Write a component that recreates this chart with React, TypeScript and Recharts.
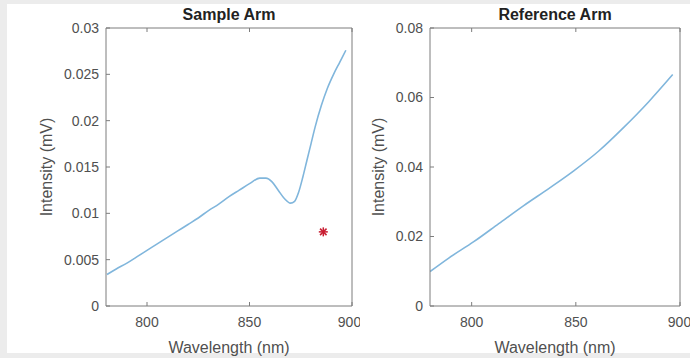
import { ComposedChart, Line, Scatter, XAxis, YAxis } from 'recharts'

const sampleWavelength = [780.5, 785, 790, 795, 800, 805, 810, 815, 820, 825, 830, 835, 840, 845, 850, 855, 858, 861, 864, 867, 870, 872, 874, 876, 878, 880, 882, 885, 888, 891, 894, 897]
const sampleIntensity = [0.0034, 0.004, 0.0046, 0.0053, 0.006, 0.0067, 0.0074, 0.0081, 0.0088, 0.0095, 0.0103, 0.011, 0.0118, 0.0125, 0.0132, 0.0138, 0.0138, 0.0134, 0.0125, 0.0116, 0.0111, 0.0113, 0.0123, 0.0139, 0.0157, 0.0175, 0.0193, 0.0216, 0.0235, 0.025, 0.0263, 0.0276]

const refWavelength = [780, 789, 801, 813, 825, 837, 849, 861, 873, 885, 896.5]
const refIntensity = [0.0099, 0.0138, 0.0185, 0.0237, 0.0289, 0.0338, 0.0389, 0.0446, 0.0514, 0.0588, 0.0666]

const markerWavelength = [886]
const markerIntensity = [0.008]

const xTicks = [800, 850, 900]
const sampleYTicks = [0, 0.005, 0.01, 0.015, 0.02, 0.025, 0.03]
const refYTicks = [0, 0.02, 0.04, 0.06, 0.08]

const FONT = '"Liberation Sans", Arial, Helvetica, sans-serif'
const AXIS = '#7d7d7d'
const TICK_TEXT = '#505050'
const LINE = '#80b6dc'

const toRows = (xs: number[], ys: number[]) => xs.map((w, i) => ({ w, v: ys[i] }))

function Asterisk(props: any) {
  const { cx, cy } = props
  const r = 4.5
  const d = r * 0.72
  return (
    <g stroke="#c81e32" strokeWidth={1.5}>
      <line x1={cx - r} y1={cy} x2={cx + r} y2={cy} />
      <line x1={cx} y1={cy - r} x2={cx} y2={cy + r} />
      <line x1={cx - d} y1={cy - d} x2={cx + d} y2={cy + d} />
      <line x1={cx - d} y1={cy + d} x2={cx + d} y2={cy - d} />
    </g>
  )
}

interface PanelProps {
  title: string
  left: number
  width: number
  yAxisWidth: number
  rightMargin: number
  labelGap: number
  yMax: number
  yTicks: number[]
  line: { w: number; v: number }[]
  marker?: { w: number; v: number }[]
}

function Panel({ title, left, width, yAxisWidth, rightMargin, labelGap, yMax, yTicks, line, marker }: PanelProps) {
  // plot box right edge sits at width - rightMargin (the 1px right axis is the box line)
  const plotCenter = yAxisWidth + (width - yAxisWidth - rightMargin) / 2
  const tickStyle = { fill: TICK_TEXT, fontSize: 14, fontFamily: FONT }
  return (
    <div style={{ position: 'absolute', left, top: 0, width, height: 358 }}>
      <div style={{ position: 'absolute', left: plotCenter - 100, width: 200, top: 6, textAlign: 'center', fontFamily: FONT, fontWeight: 'bold', fontSize: 16, color: '#222' }}>
        {title}
      </div>
      <ComposedChart width={width} height={358} margin={{ top: 27, right: rightMargin - 1, bottom: 0, left: 0 }}>
        <XAxis
          xAxisId="b"
          dataKey="w"
          type="number"
          domain={[780, 900]}
          allowDataOverflow
          ticks={xTicks}
          height={52}
          stroke={AXIS}
          tickSize={-4}
          tickMargin={15}
          tick={tickStyle}
          label={{ value: 'Wavelength (nm)', position: 'insideBottom', offset: 5, fill: TICK_TEXT, fontSize: 16, fontFamily: FONT }}
        />
        <XAxis
          xAxisId="t"
          orientation="top"
          dataKey="w"
          type="number"
          domain={[780, 900]}
          allowDataOverflow
          ticks={xTicks}
          height={1}
          stroke={AXIS}
          tickSize={-4}
          tickFormatter={() => ''}
        />
        <YAxis
          yAxisId="l"
          type="number"
          domain={[0, yMax]}
          ticks={yTicks}
          width={yAxisWidth}
          stroke={AXIS}
          tickSize={-4}
          tickMargin={11}
          tick={tickStyle}
          label={{ value: 'Intensity (mV)', angle: -90, position: 'insideLeft', offset: yAxisWidth - labelGap, style: { textAnchor: 'middle' }, fill: TICK_TEXT, fontSize: 16, fontFamily: FONT }}
        />
        <YAxis
          yAxisId="r"
          orientation="right"
          type="number"
          domain={[0, yMax]}
          ticks={yTicks}
          width={1}
          stroke={AXIS}
          tickSize={-4}
          tickFormatter={() => ''}
        />
        <Line
          xAxisId="b"
          yAxisId="l"
          data={line}
          dataKey="v"
          type="monotone"
          stroke={LINE}
          strokeWidth={1.6}
          dot={false}
          activeDot={false}
          isAnimationActive={false}
        />
        {marker && (
          <Scatter xAxisId="b" yAxisId="l" data={marker} dataKey="v" shape={Asterisk} isAnimationActive={false} />
        )}
      </ComposedChart>
    </div>
  )
}

export default function App() {
  return (
    <div style={{ position: 'absolute', left: 0, top: 0, width: 690, height: 358, background: '#ececec', overflow: 'hidden' }}>
      <div style={{ position: 'absolute', left: 7, top: 4, width: 683, height: 349, background: '#fff' }} />
      <Panel
        title="Sample Arm"
        left={0}
        width={360}
        yAxisWidth={106}
        rightMargin={8}
        labelGap={60}
        yMax={0.03}
        yTicks={sampleYTicks}
        line={toRows(sampleWavelength, sampleIntensity)}
        marker={toRows(markerWavelength, markerIntensity)}
      />
      <Panel
        title="Reference Arm"
        left={340}
        width={350}
        yAxisWidth={90}
        rightMargin={10}
        labelGap={52}
        yMax={0.08}
        yTicks={refYTicks}
        line={toRows(refWavelength, refIntensity)}
      />
    </div>
  )
}
